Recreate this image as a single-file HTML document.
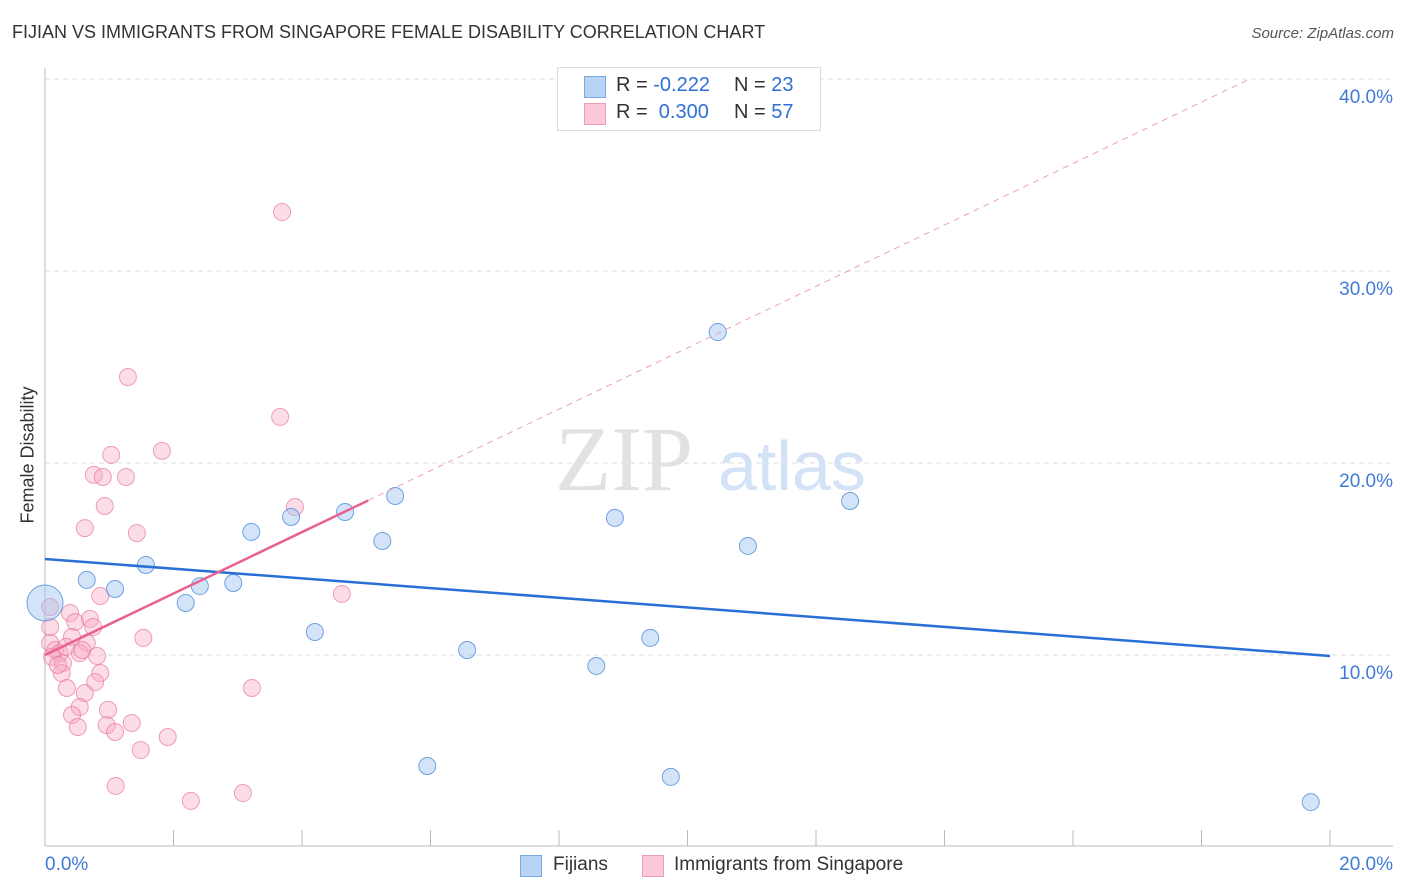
<!DOCTYPE html>
<html><head><meta charset="utf-8"><style>
body{margin:0;background:#fff;font-family:"Liberation Sans",sans-serif;}
#wrap{position:relative;width:1406px;height:892px;overflow:hidden;}
.t{position:absolute;white-space:nowrap;}
</style></head><body>
<div id="wrap">
<div class="t" style="left:12px;top:22px;font-size:18px;color:#333;">FIJIAN VS IMMIGRANTS FROM SINGAPORE FEMALE DISABILITY CORRELATION CHART</div>
<div class="t" style="right:12px;top:25px;font-size:15px;color:#555;font-style:italic;">Source: ZipAtlas.com</div>
<svg id="svg" width="1406" height="892" style="position:absolute;left:0;top:0"></svg>
<div class="t" style="left:28px;top:455px;font-size:18px;color:#333;transform:translate(-50%,-50%) rotate(-90deg);">Female Disability</div>
<div style="position:absolute;left:557px;top:67px;width:262px;height:62px;border:1px solid #ddd;background:#fff;font-size:20px;">
 <div style="position:absolute;left:26px;top:8px;width:20px;height:20px;background:#b9d3f5;border:1px solid #7aa7e6"></div>
 <div class="t" style="left:58px;top:6px;color:#333">R = <span style="color:#2f6fd6">-0.222</span></div>
 <div class="t" style="left:176px;top:6px;color:#333">N = <span style="color:#2f6fd6">23</span></div>
 <div style="position:absolute;left:26px;top:35px;width:20px;height:20px;background:#fbc9d8;border:1px solid #ee9bb5"></div>
 <div class="t" style="left:58px;top:33px;color:#333">R = &nbsp;<span style="color:#2f6fd6">0.300</span></div>
 <div class="t" style="left:176px;top:33px;color:#333">N = <span style="color:#2f6fd6">57</span></div>
</div>
<div style="position:absolute;left:520px;top:854px;font-size:19px;color:#333;">
 <div style="position:absolute;left:0;top:1px;width:20px;height:20px;background:#b9d3f5;border:1px solid #7aa7e6"></div>
 <div class="t" style="left:33px;top:0">Fijians</div>
 <div style="position:absolute;left:122px;top:1px;width:20px;height:20px;background:#fbc9d8;border:1px solid #ee9bb5"></div>
 <div class="t" style="left:154px;top:0">Immigrants from Singapore</div>
</div>
</div>
<script>
const yTicks=[10,20,30,40];
const yTickLabels=["10.0%","20.0%","30.0%","40.0%"];
const blueX=[0,0.65,1.09,1.57,2.19,2.41,2.93,3.21,3.83,4.20,4.67,5.25,5.45,5.95,6.57,8.58,8.87,9.42,9.74,10.47,10.94,12.53,19.70];
const blueY=[12.71,13.91,13.44,14.69,12.71,13.59,13.75,16.41,17.19,11.20,17.45,15.94,18.28,4.22,10.26,9.43,17.14,10.89,3.65,26.82,15.68,18.02,2.34];
const pinkX=[1.29,3.66,1.03,1.82,0.76,0.90,1.26,0.93,3.89,0.62,1.43,0.86,0.08,0.39,0.47,0.70,0.75,0.08,0.42,0.65,1.53,0.08,0.16,0.23,0.54,0.81,0.11,0.28,0.26,0.86,0.78,0.34,0.62,0.54,0.98,0.42,0.96,1.35,0.51,1.09,1.91,3.22,1.49,1.10,2.27,3.08,3.69,4.62,0.20,0.58,0.33];
const pinkY=[24.48,22.40,20.42,20.63,19.38,19.27,19.27,17.76,17.71,16.61,16.35,13.07,12.50,12.19,11.72,11.88,11.46,11.46,10.94,10.63,10.89,10.63,10.26,10.10,10.10,9.95,9.90,9.58,9.06,9.06,8.59,8.28,8.02,7.29,7.14,6.88,6.35,6.46,6.25,5.99,5.73,8.28,5.05,3.18,2.40,2.81,33.07,13.18,9.48,10.26,10.42];
const blueTrend=[15.0,9.95];
const pinkTrend=[10.0,1.6];
const X=v=>45+v/20*1285, Y=v=>847-v*19.2;
const s=document.getElementById('svg');
function el(t,a){const e=document.createElementNS('http://www.w3.org/2000/svg',t);for(const k in a)e.setAttribute(k,a[k]);s.appendChild(e);return e;}
let e=el('line',{x1:45,y1:68,x2:45,y2:846,stroke:'#bbb'});

e=el('line',{x1:45,y1:846,x2:1393,y2:846,stroke:'#bbb'});

for(let i=1;i<=10;i++){e=el('line',{x1:X(i*2),y1:830,x2:X(i*2),y2:846,stroke:'#bbb'});
}
yTicks.forEach((v,i)=>{e=el('line',{x1:45,y1:Y(v),x2:1393,y2:Y(v),stroke:'#ddd','stroke-dasharray':'5,4'});

e=el('text',{x:1393,y:Y(v)+24,'text-anchor':'end','font-size':19,fill:'#3f7ad6','font-family':'Liberation Sans'});e.textContent=yTickLabels[i];
});
e=el('text',{x:45,y:870,'font-size':19,fill:'#3f7ad6','font-family':'Liberation Sans'});e.textContent='0.0%';

e=el('text',{x:1393,y:870,'text-anchor':'end','font-size':19,fill:'#3f7ad6','font-family':'Liberation Sans'});e.textContent='20.0%';

e=el('text',{x:555,y:490,'font-size':92,fill:'#e2e2e2','font-family':'Liberation Serif'});e.textContent='ZIP';

e=el('text',{x:718,y:490,'font-size':70,fill:'#d3e2f6','font-family':'Liberation Sans'});e.textContent='atlas';

pinkX.forEach((x,i)=>{e=el('circle',{cx:X(x),cy:Y(pinkY[i]),r:8.5,fill:'rgba(248,170,195,0.4)',stroke:'rgba(232,120,155,0.7)','stroke-width':1});
});
blueX.forEach((x,i)=>{e=el('circle',{cx:X(x),cy:Y(blueY[i]),r:i==0?18:8.5,fill:'rgba(160,195,240,0.45)',stroke:'rgba(80,140,220,0.8)','stroke-width':1});
});
e=el('line',{x1:X(0),y1:Y(blueTrend[0]),x2:X(20),y2:Y(blueTrend[1]),stroke:'#2a6fd6','stroke-width':2.5});

const pe=5.03,pd=18.75;
e=el('line',{x1:X(0),y1:Y(pinkTrend[0]),x2:X(pe),y2:Y(pinkTrend[0]+pinkTrend[1]*pe),stroke:'#e8628f','stroke-width':2.5});

e=el('line',{x1:X(pe),y1:Y(pinkTrend[0]+pinkTrend[1]*pe),x2:X(pd),y2:Y(pinkTrend[0]+pinkTrend[1]*pd),stroke:'#eba0b8','stroke-width':1,'stroke-dasharray':'6,5'});

</script>
</body></html>
